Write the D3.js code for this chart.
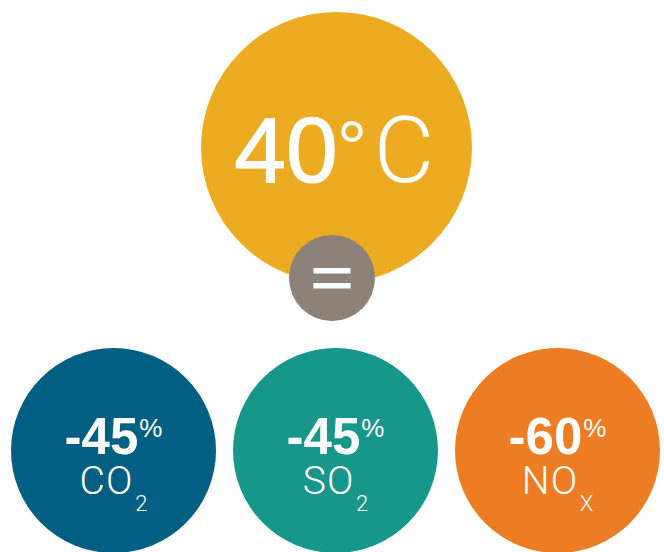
<!DOCTYPE html>
<html>
<head>
<meta charset="utf-8">
<script src="https://cdn.jsdelivr.net/npm/d3@7"></script>
<style>
  html, body { margin: 0; padding: 0; background: #ffffff; }
  svg { display: block; }
</style>
</head>
<body>
<svg id="chart" width="664" height="552"></svg>
<script>
// Headline temperature and the emission reductions it brings
const temperature = 40;
const degreeSign = "°";
const tempUnit = "C";
const gases = ["CO", "SO", "NO"];
const gasSubscripts = ["2", "2", "X"];
const reductions = [-45, -45, -60];
const gasColors = ["#005f83", "#17978a", "#ee7c23"];

const svg = d3.select("#chart");

const regular = "'Liberation Sans', Arial, Helvetica, sans-serif";
const light = "Roboto, 'Liberation Sans', Arial, sans-serif";

// Radius scale: the headline bubble and the gas bubbles
const r = d3.scaleLinear().domain([0, 1]).range([0, 135.5]);

// Headline bubble
const headline = svg.append("g").attr("transform", "translate(336.5,147.5)");
headline.append("circle").attr("r", r(1)).attr("fill", "#edab22");
const tt = headline.append("text")
  .attr("x", -102.2)
  .attr("y", 34.5)
  .attr("text-anchor", "start")
  .attr("fill", "#ffffff")
  .attr("font-size", 93);
tt.append("tspan").attr("font-family", regular)
  .attr("stroke", "#ffffff").attr("stroke-width", 1.2).attr("stroke-linejoin", "round")
  .text(temperature);
tt.append("tspan").attr("font-family", regular).attr("font-size", 76)
  .attr("dx", -1).attr("dy", -8).text(degreeSign);
tt.append("tspan").attr("font-family", light).attr("font-weight", 300)
  .attr("dx", 6.5).attr("dy", 8).text(tempUnit);

// Equals badge
const eq = svg.append("g").attr("transform", "translate(332,278)");
eq.append("circle").attr("r", 43).attr("fill", "#8c8279");
eq.selectAll("rect").data([-10, 5]).join("rect")
  .attr("x", -18.5).attr("y", d => d).attr("width", 37).attr("height", 5.5)
  .attr("fill", "#ffffff");

// Gas bubbles along a point scale
const x = d3.scalePoint().domain(gases.map((g, i) => i)).range([2.5, 668.5]).padding(0.5);
const gr = r(102.5 / 135.5);

const g = svg.selectAll("g.gas").data(reductions).join("g")
  .attr("class", "gas")
  .attr("transform", (d, i) => `translate(${x(i)},450.5)`);

g.append("circle").attr("r", gr).attr("fill", (d, i) => gasColors[i]);

const val = g.append("text").attr("y", 3.5).attr("text-anchor", "middle").attr("fill", "#ffffff");
val.append("tspan").attr("font-family", regular).attr("font-weight", 700).attr("font-size", 51)
  .text(d => d);
val.append("tspan").attr("font-family", regular).attr("font-size", 26).attr("dx", 1).attr("dy", -17)
  .text("%");

const lab = g.append("text").attr("y", 43.5).attr("text-anchor", "middle").attr("fill", "#ffffff")
  .attr("font-family", light).attr("font-weight", 300);
lab.append("tspan").attr("font-size", 39).attr("letter-spacing", 1.2).text((d, i) => gases[i]);
lab.append("tspan").attr("font-size", 22).attr("dx", 1.5).attr("dy", 17).text((d, i) => gasSubscripts[i]);
</script>
</body>
</html>
